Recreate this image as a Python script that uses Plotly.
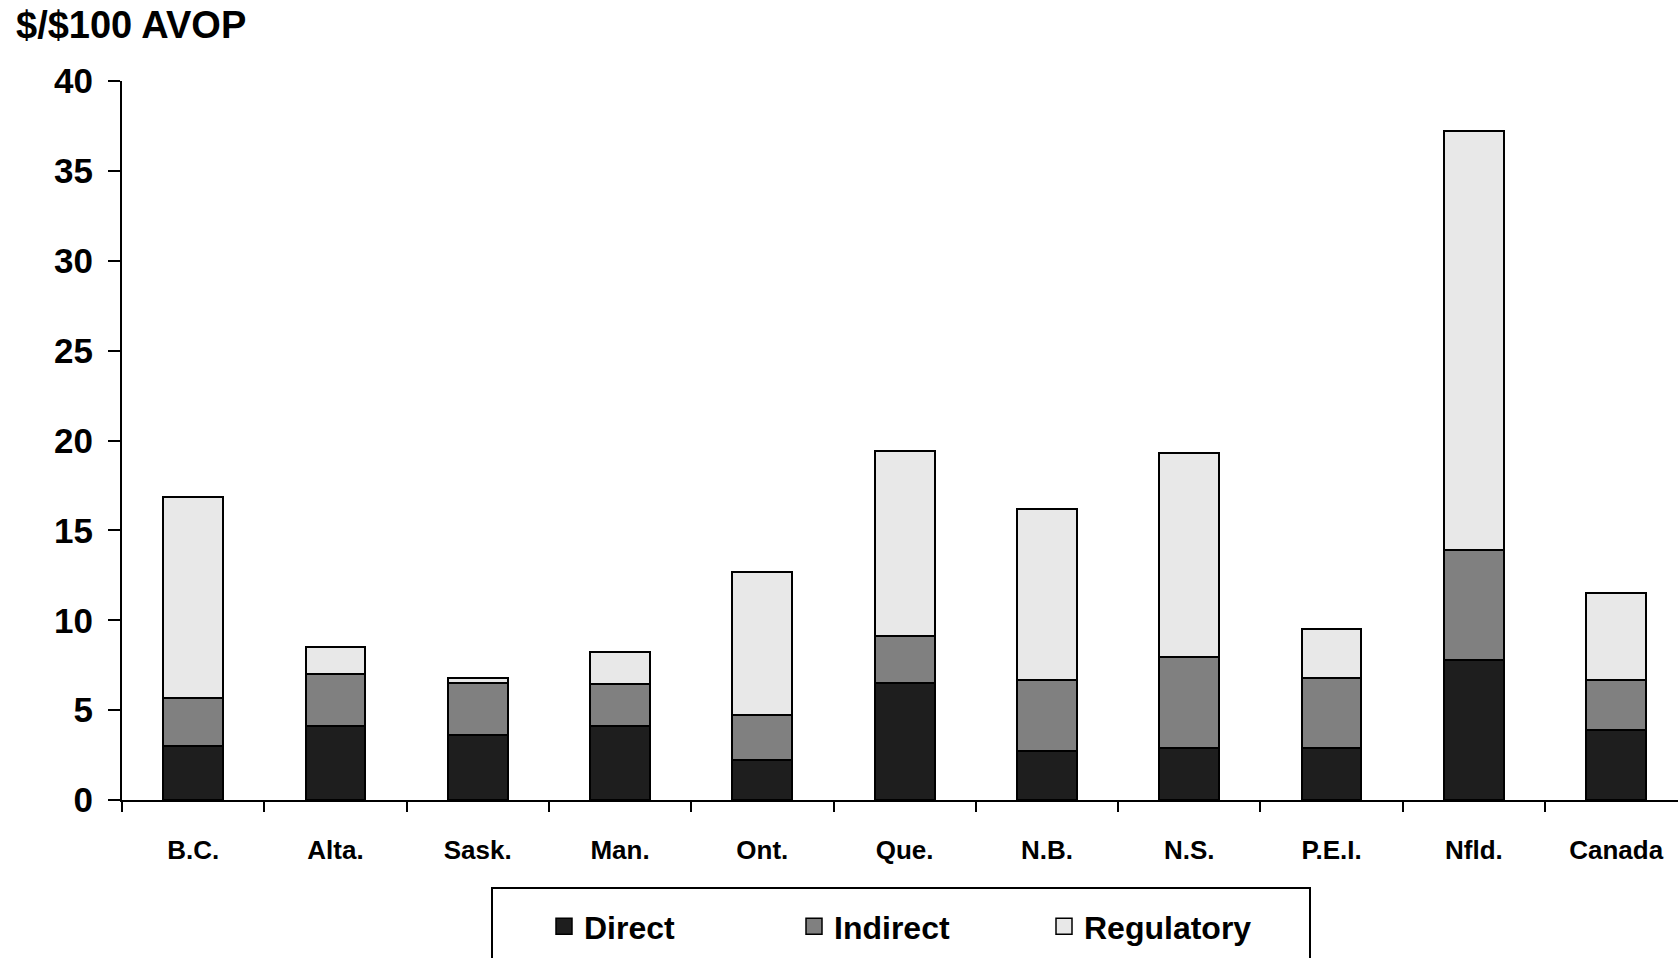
import plotly.graph_objects as go

categories = ["B.C.", "Alta.", "Sask.", "Man.", "Ont.", "Que.", "N.B.", "N.S.", "P.E.I.", "Nfld.", "Canada"]
direct = [3.0, 4.1, 3.6, 4.1, 2.2, 6.5, 2.7, 2.9, 2.9, 7.8, 3.9]
indirect = [2.65, 2.9, 2.9, 2.35, 2.55, 2.6, 4.0, 5.05, 3.9, 6.1, 2.8]
regulatory = [11.2, 1.5, 0.3, 1.8, 7.95, 10.3, 9.5, 11.35, 2.7, 23.3, 4.8]
y_ticks = [0, 5, 10, 15, 20, 25, 30, 35, 40]

series = [
    ("Direct", direct, "#1e1e1e"),
    ("Indirect", indirect, "#808080"),
    ("Regulatory", regulatory, "#e8e8e8"),
]

fig = go.Figure()
for name, vals, color in series:
    fig.add_trace(go.Bar(
        name=name, x=categories, y=vals, width=0.42, showlegend=False,
        marker=dict(color=color, line=dict(color="black", width=2)),
    ))
# legend entries with larger square swatches
for name, vals, color in series:
    fig.add_trace(go.Scatter(
        name=name, x=[None], y=[None], mode="markers", showlegend=True,
        marker=dict(symbol="square", size=19, color=color, line=dict(color="black", width=1.5)),
    ))

W, H = 1678, 958
ml, mr, mt, mb = 122, 0, 81, 158
pw = W - ml - mr
ph = H - mt - mb
step = 142.3

def px_x(p):
    return (p - ml) / pw

def px_y(p):
    return (H - mb - p) / ph

font_family = "Liberation Sans, Arial, sans-serif"

fig.update_layout(
    width=W, height=H, barmode="stack",
    margin=dict(l=ml, r=mr, t=mt, b=mb, pad=0),
    paper_bgcolor="white", plot_bgcolor="white",
    title=dict(text="$/$100 AVOP", x=16 / W, xanchor="left", xref="container",
               y=1 - 24.5 / H, yanchor="middle", yref="container",
               font=dict(family=font_family, size=38, color="black", weight="bold")),
    showlegend=True,
    legend=dict(orientation="h", x=px_x(544), xanchor="left",
                y=px_y(899), yanchor="top",
                borderwidth=0, bgcolor="rgba(0,0,0,0)",
                font=dict(family=font_family, size=32, color="black", weight="bold"),
                entrywidth=205, itemsizing="trace", traceorder="normal"),
    shapes=[dict(type="rect", xref="paper", yref="paper",
                 x0=px_x(492), x1=px_x(1310), y0=px_y(888), y1=px_y(975),
                 line=dict(color="black", width=2), fillcolor="rgba(0,0,0,0)", layer="below")],
    xaxis=dict(range=[-0.5, -0.5 + pw / step], showline=True, linecolor="black", linewidth=2,
               ticks="outside", ticklen=10, tickwidth=2, tickcolor="black", tickson="boundaries",
               showgrid=False, zeroline=False, ticklabelstandoff=26,
               tickfont=dict(family=font_family, size=26, color="black", weight="bold")),
    yaxis=dict(range=[0, 40], tickvals=y_ticks, showline=True, linecolor="black", linewidth=2,
               ticks="outside", ticklen=12, tickwidth=2, tickcolor="black",
               showgrid=False, zeroline=False, ticklabelstandoff=8,
               tickfont=dict(family=font_family, size=35, color="black", weight="bold")),
)

fig.write_html("out.html", config={"displayModeBar": False},
               post_script="document.body.style.margin='0';document.body.style.overflow='hidden';")
